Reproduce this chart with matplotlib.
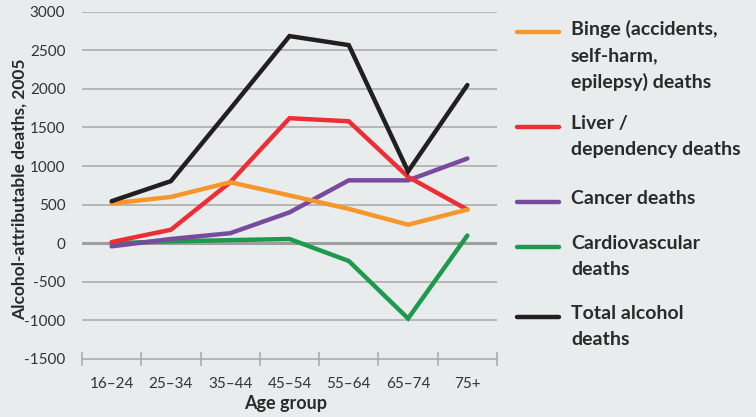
import matplotlib
matplotlib.use("Agg")
import matplotlib.pyplot as plt
from matplotlib.lines import Line2D

age_groups = ["16–24", "25–34", "35–44", "45–54", "55–64", "65–74", "75+"]
binge = [515, 600, 790, 620, 445, 240, 436]
liver = [15, 175, 790, 1620, 1580, 860, 436]
cancer = [-40, 55, 130, 400, 815, 815, 1098]
cardio = [0, 25, 40, 55, -230, -975, 100]
total = [545, 805, 1740, 2684, 2567, 930, 2050]

series_labels = ["Binge (accidents,\nself-harm,\nepilepsy) deaths",
                 "Liver /\ndependency deaths",
                 "Cancer deaths",
                 "Cardiovascular\ndeaths",
                 "Total alcohol\ndeaths"]
colors = ["#F7962B", "#EE2E36", "#7A4A9E", "#1E9A4E", "#231F20"]

bg = "#E9ECEC"
plt.rcParams['font.family'] = ['Lato', 'DejaVu Sans']

fig = plt.figure(figsize=(7.56, 4.17), dpi=100, facecolor=bg)
ax = fig.add_axes([82/756, 1-359/417, (497-82)/756, (359-11.7)/417], facecolor=bg)

x = list(range(len(age_groups)))
data = [binge, liver, cancer, cardio, total]
order = [3, 2, 1, 0, 4]
for i in order:
    ax.plot(x, data[i], color=colors[i], lw=3.2, solid_joinstyle='miter',
            solid_capstyle='round', zorder=3 + order.index(i))

ax.set_xlim(-0.5, 6.5)
ax.set_ylim(-1500, 3000)
ax.set_yticks(range(-1500, 3001, 500))
ax.set_yticklabels([str(v) for v in range(-1500, 3001, 500)])
for v in range(-1000, 3001, 500):
    ax.axhline(v, color="#9E9E9E" if v == 0 else "#A8A8A8",
               lw=2.2 if v == 0 else 1.1, zorder=1)

for s in ["left", "right", "top"]:
    ax.spines[s].set_visible(False)
ax.spines["bottom"].set_color("#A8A8A8")
ax.spines["bottom"].set_linewidth(1.1)

ax.tick_params(axis='y', length=0, pad=12, labelsize=11, labelcolor="#333333")
ax.set_xticks([i - 0.5 for i in range(8)])
ax.set_xticklabels([])
ax.tick_params(axis='x', which='major', direction='inout', length=10, width=1.1, color="#A8A8A8")
ax.set_xticks(x, minor=True)
ax.set_xticklabels(age_groups, minor=True)
ax.tick_params(axis='x', which='minor', length=0, pad=13, labelsize=11, labelcolor="#333333")

ax.set_ylabel("Alcohol-attributable deaths, 2005", fontsize=12.5, fontweight='bold', color="#2a2a2a")
ax.yaxis.set_label_coords(-0.13, 0.49)
ax.set_xlabel("Age group", fontsize=13, fontweight='bold', color="#2a2a2a")
ax.xaxis.set_label_coords(0.49, -0.105)

# legend
leg_y = [32, 127, 202, 247, 317]
for lbl, c, yy in zip(series_labels, colors, leg_y):
    fy = 1 - yy/417
    fig.add_artist(Line2D([517/756, 559/756], [fy, fy], color=c, lw=3.2,
                          solid_capstyle='round', transform=fig.transFigure))
    fig.text(571/756, fy + 12/417, lbl, fontsize=14, fontweight='bold',
             color="#2a2a2a", va='top', ha='left', linespacing=1.62)

fig.savefig("out.png", dpi=100, facecolor=bg)
